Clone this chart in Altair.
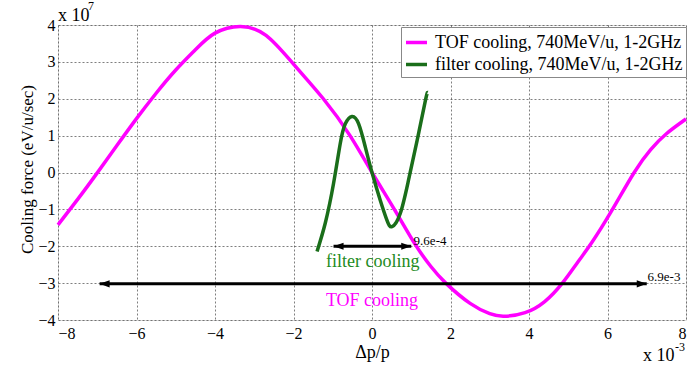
import altair as alt
import pandas as pd

# ---- data (x in units of 1e-3, force in units of 1e7) ----
tof_x = [-8.0, -7.5, -7.0, -6.5, -6.0, -5.5, -5.0, -4.5, -4.0, -3.36, -2.7, -2.0,
         -1.24, -0.56, 0.0, 0.57, 1.1, 1.5, 1.88, 2.5, 3.0, 3.36, 3.9, 4.4, 4.85,
         5.25, 5.6, 6.1, 6.68, 7.1, 7.5, 8.0]
tof_y = [-1.42, -0.73, -0.01, 0.73, 1.46, 2.15, 2.78, 3.33, 3.78, 3.96, 3.72, 2.94,
         2.0, 1.0, 0.0, -1.0, -1.95, -2.55, -3.0, -3.55, -3.83, -3.9, -3.8, -3.5, -3.0,
         -2.42, -1.9, -1.05, 0.0, 0.62, 1.05, 1.45]

filt_x = [-1.40, -1.19, -0.98, -0.81, -0.68, -0.51, -0.34, -0.17, 0.0, 0.21, 0.38,
          0.51, 0.72, 0.93, 1.15, 1.36, 1.42]
filt_y = [-2.14, -1.37, -0.30, 0.78, 1.32, 1.52, 1.32, 0.69, 0.0, -0.75, -1.29,
          -1.47, -1.11, -0.21, 0.87, 1.95, 2.17]

series_names = ["TOF cooling, 740MeV/u, 1-2GHz", "filter cooling, 740MeV/u, 1-2GHz"]
series_colors = ["#ff00ff", "#1a6e1a"]

arrow_x1 = [-0.98, -6.94]
arrow_x2 = [1.0, 7.0]
arrow_y = [-2.0, -3.02]

ann_text = ["9.6e-4", "6.9e-3"]
ann_x = [1.06, 7.02]
ann_y = [-1.96, -2.95]

lbl_text = ["filter cooling", "TOF cooling"]
lbl_x = [0.02, 0.0]
lbl_y = [-2.57, -3.63]
lbl_color = ["#238b23", "#ff00ff"]

x_ticks = [-8, -6, -4, -2, 0, 2, 4, 6, 8]
y_ticks = [-4, -3, -2, -1, 0, 1, 2, 3, 4]

# ---- tables ----
curves = pd.concat([
    pd.DataFrame({"x": tof_x, "y": tof_y, "series": series_names[0]}),
    pd.DataFrame({"x": filt_x, "y": filt_y, "series": series_names[1]}),
])
arrows = pd.DataFrame({"x1": arrow_x1, "x2": arrow_x2, "y": arrow_y})
ann = pd.DataFrame({"t": ann_text, "x": ann_x, "y": ann_y})
lbls = pd.DataFrame({"t": lbl_text, "x": lbl_x, "y": lbl_y, "c": lbl_color})

SERIF = "Liberation Serif"

xs = alt.Scale(domain=[-8, 8], nice=False, zero=False)
ys = alt.Scale(domain=[-4, 4], nice=False, zero=False)


def xax():
    return alt.Axis(values=x_ticks, title="Δp/p", grid=True, ticks=False, domain=False,
                    labelFont=SERIF, labelFontSize=16, labelColor="black", labelPadding=5,
                    labelOverlap=False,
                    gridColor="#333", gridDash=[2, 2], gridWidth=0.7, gridOpacity=0.9,
                    titleFont=SERIF, titleFontSize=18, titleFontWeight="normal",
                    titleColor="black", titleX=314, titleY=37, titleBaseline="alphabetic",
                    titleAlign="center")


def yax():
    return alt.Axis(values=y_ticks, title="Cooling force (eV/u/sec)", grid=True, ticks=False,
                    domain=False, labelFont=SERIF, labelFontSize=16, labelColor="black",
                    labelPadding=3, labelOverlap=False,
                    gridColor="#333", gridDash=[2, 2], gridWidth=0.7, gridOpacity=0.9,
                    titleFont=SERIF, titleFontSize=17,
                    titleFontWeight="normal", titleColor="black", titleX=-31, titleY=144,
                    titleAngle=270, titleAlign="center", titleBaseline="middle")


def X(field):
    return alt.X(field, scale=xs, axis=xax())


def Y(field):
    return alt.Y(field, scale=ys, axis=yax())


lines = alt.Chart(curves).mark_line(strokeWidth=3.5, interpolate="natural").encode(
    x=X("x:Q"),
    y=Y("y:Q"),
    color=alt.Color("series:N",
                    scale=alt.Scale(domain=series_names, range=series_colors),
                    legend=alt.Legend(title=None, orient="none", legendX=343, legendY=2,
                                      symbolType="stroke", symbolStrokeWidth=3.5,
                                      symbolSize=441, labelFont=SERIF, labelFontSize=18,
                                      labelColor="black", labelOffset=6, rowPadding=0,
                                      padding=3, fillColor="white", strokeColor="#888",
                                      labelLimit=400)),
    detail="series:N",
)

arrow_line = alt.Chart(arrows).mark_rule(color="black", strokeWidth=3).encode(
    x=X("x1:Q"), x2="x2:Q", y=Y("y:Q"))
head_r = alt.Chart(arrows).mark_point(shape="M0,0L-1,-0.36L-1,0.36Z", size=400,
                                      filled=True, color="black", opacity=1).encode(
    x=X("x2:Q"), y=Y("y:Q"))
head_l = alt.Chart(arrows).mark_point(shape="M0,0L1,-0.36L1,0.36Z", size=400,
                                      filled=True, color="black", opacity=1).encode(
    x=X("x1:Q"), y=Y("y:Q"))

ann_txt = alt.Chart(ann).mark_text(font=SERIF, fontSize=13, align="left",
                                   baseline="alphabetic", color="black").encode(
    x=X("x:Q"), y=Y("y:Q"), text="t:N")

lbl_txt = alt.Chart(lbls).mark_text(font=SERIF, fontSize=18, align="center",
                                    baseline="alphabetic").encode(
    x=X("x:Q"), y=Y("y:Q"), text="t:N",
    color=alt.Color("c:N", scale=None))

exp_df = pd.DataFrame({"a": [0]})


def fixed_text(txt, px, py, size):
    return alt.Chart(exp_df).mark_text(text=txt, font=SERIF, fontSize=size, align="left",
                                       baseline="alphabetic", color="black").encode(
        x=alt.value(px), y=alt.value(py))


exps = (fixed_text("x 10", 0, -4, 18) + fixed_text("7", 30, -15, 12) +
        fixed_text("x 10", 585, 336, 18) + fixed_text("-3", 617, 326, 12))

chart = alt.layer(lines, arrow_line, head_r, head_l, ann_txt, lbl_txt, exps).properties(
    width=628, height=295,
    autosize=alt.AutoSizeParams(type="none"),
    padding={"left": 58, "top": 25, "right": 9, "bottom": 45},
).configure_view(stroke="#666", strokeWidth=1).configure_axis(
    grid=True, gridColor="#333", gridDash=[2, 2], gridWidth=0.7, gridOpacity=0.9,
    labelFont=SERIF, titleFont=SERIF, labelFontSize=16, labelColor="black",
    ticks=False, domain=False, labelOverlap=False
).configure(background="white")

chart.save("out.html", embed_options={"renderer": "svg", "actions": False})
